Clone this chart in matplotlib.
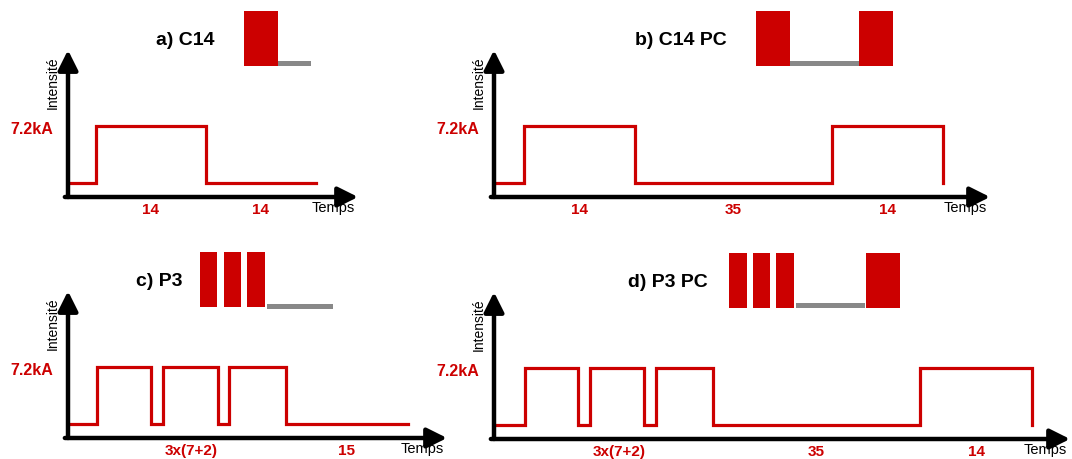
import matplotlib.pyplot as plt
from matplotlib.patches import Rectangle

plt.rcParams['font.family'] = ['Liberation Sans', 'DejaVu Sans']

W, H = 1072, 459
RED = "#cc0000"
GREY = "#888888"

# schematic time axis: edges of each segment, and level (1 = 7.2 kA, 0 = rest)
titles = ["a) C14", "b) C14 PC", "c) P3", "d) P3 PC"]
edges_a = [0, 3.5, 17.5, 31.5]
levels_a = [0, 1, 0]
edges_b = [0, 3.8, 18, 43, 57.2]
levels_b = [0, 1, 0, 1]
edges_c = [0, 3.7, 10.6, 12.1, 19.1, 20.5, 27.7, 43.3]
levels_c = [0, 1, 0, 1, 0, 1, 0]
edges_d = [0, 3.9, 10.7, 12.2, 19.1, 20.6, 27.9, 54.2, 68.5]
levels_d = [0, 1, 0, 1, 0, 1, 0, 1]

# duration labels under the time axis: (text, first edge index, last edge index)
labels_a = [("14", 1, 2), ("14", 2, 3)]
labels_b = [("14", 1, 2), ("35", 2, 3), ("14", 3, 4)]
labels_c = [("3x(7+2)", 1, 6), ("15", 6, 7)]
labels_d = [("3x(7+2)", 1, 6), ("35", 6, 7), ("14", 7, 8)]

# little pulse pictograms: L = long pulse, S = short pulse, R = short rest, RR = long rest
icons = [["L", "R"], ["L", "RR", "L"], ["S", "S", "S", "RR"], ["S", "S", "S", "RR", "L"]]

HIGH, LOW = 7.2, 1.4
PX_X, PX_Y = 110 / 14, 71 / 7.2  # pixels per unit

# panel layout in pixels: origin x, origin y, x arrow tip, title x, icon x
layout = [
    (68, 197, 358, 185, 244),
    (494, 197, 990, 681, 756),
    (68, 438, 447, 159, 200),
    (494, 439, 1070, 668, 729),
]

fig = plt.figure(figsize=(W / 100, H / 100), dpi=100)

panels = [
    (edges_a, levels_a, labels_a),
    (edges_b, levels_b, labels_b),
    (edges_c, levels_c, labels_c),
    (edges_d, levels_d, labels_d),
]

for k, (edges, levels, labels) in enumerate(panels):
    ox, oy, tip, tx, ix = layout[k]
    xmax = (tip - ox) / PX_X
    ymax = 20
    ax = fig.add_axes([ox / W, 1 - oy / H, (tip - ox) / W, ymax * PX_Y / H])
    ax.set_xlim(0, xmax)
    ax.set_ylim(0, ymax)
    ax.axis("off")

    # axes arrows
    arrow = dict(arrowstyle="-|>,head_length=0.6,head_width=0.3", lw=3.2,
                 color="black", mutation_scale=20, shrinkA=0, shrinkB=0)
    ax.annotate("", xy=(xmax, 0), xytext=(-0.4, 0), arrowprops=arrow,
                annotation_clip=False)
    ax.annotate("", xy=(0, 14.9), xytext=(0, 0), arrowprops=arrow,
                annotation_clip=False)

    # waveform
    xs, ys = [], []
    for i, lev in enumerate(levels):
        y = HIGH if lev else LOW
        xs += [edges[i], edges[i + 1]]
        ys += [y, y]
    if levels[-1]:
        xs.append(edges[-1])
        ys.append(LOW)
    ax.plot(xs, ys, color=RED, lw=2.3, solid_joinstyle="miter", clip_on=False)

    # duration labels
    for txt, i0, i1 in labels:
        ax.text((edges[i0] + edges[i1]) / 2, -1.35, txt, color=RED, fontsize=11,
                fontweight="bold", ha="center", va="center")

    ax.text(xmax - 0.35, -1.15, "Temps", fontsize=10.5, ha="right", va="center")
    ax.text(-15 / PX_X, HIGH - 0.4, "7.2kA", color=RED, fontsize=11.5,
            fontweight="bold", ha="right", va="center")
    ax.text(-15 / PX_X, 11.55, "Intensité", fontsize=10, rotation=90,
            ha="center", va="center")
    ax.text((tx - ox) / PX_X, 15.9, titles[k], fontsize=14, fontweight="bold",
            ha="center", va="center")

    # pictogram
    x = (ix - ox) / PX_X
    bottom = 13.3
    for piece in icons[k]:
        if piece == "L":
            w = 34 / PX_X
            ax.add_patch(Rectangle((x, bottom), w, 5.6, color=RED, lw=0, clip_on=False))
            x += w
        elif piece == "S":
            w = 17.5 / PX_X
            ax.add_patch(Rectangle((x, bottom), w, 5.6, color=RED, lw=0, clip_on=False))
            x += w + 6 / PX_X
        else:
            if k >= 2:
                x -= 4 / PX_X
            w = (33 if piece == "R" else (66 if k == 2 else 69)) / PX_X
            ax.add_patch(Rectangle((x, bottom - (0.25 if k == 2 else 0)), w, 0.5,
                                   color=GREY, lw=0, clip_on=False))
            x += w + (1 / PX_X if k >= 2 else 0)

fig.savefig("out.png", dpi=100)
